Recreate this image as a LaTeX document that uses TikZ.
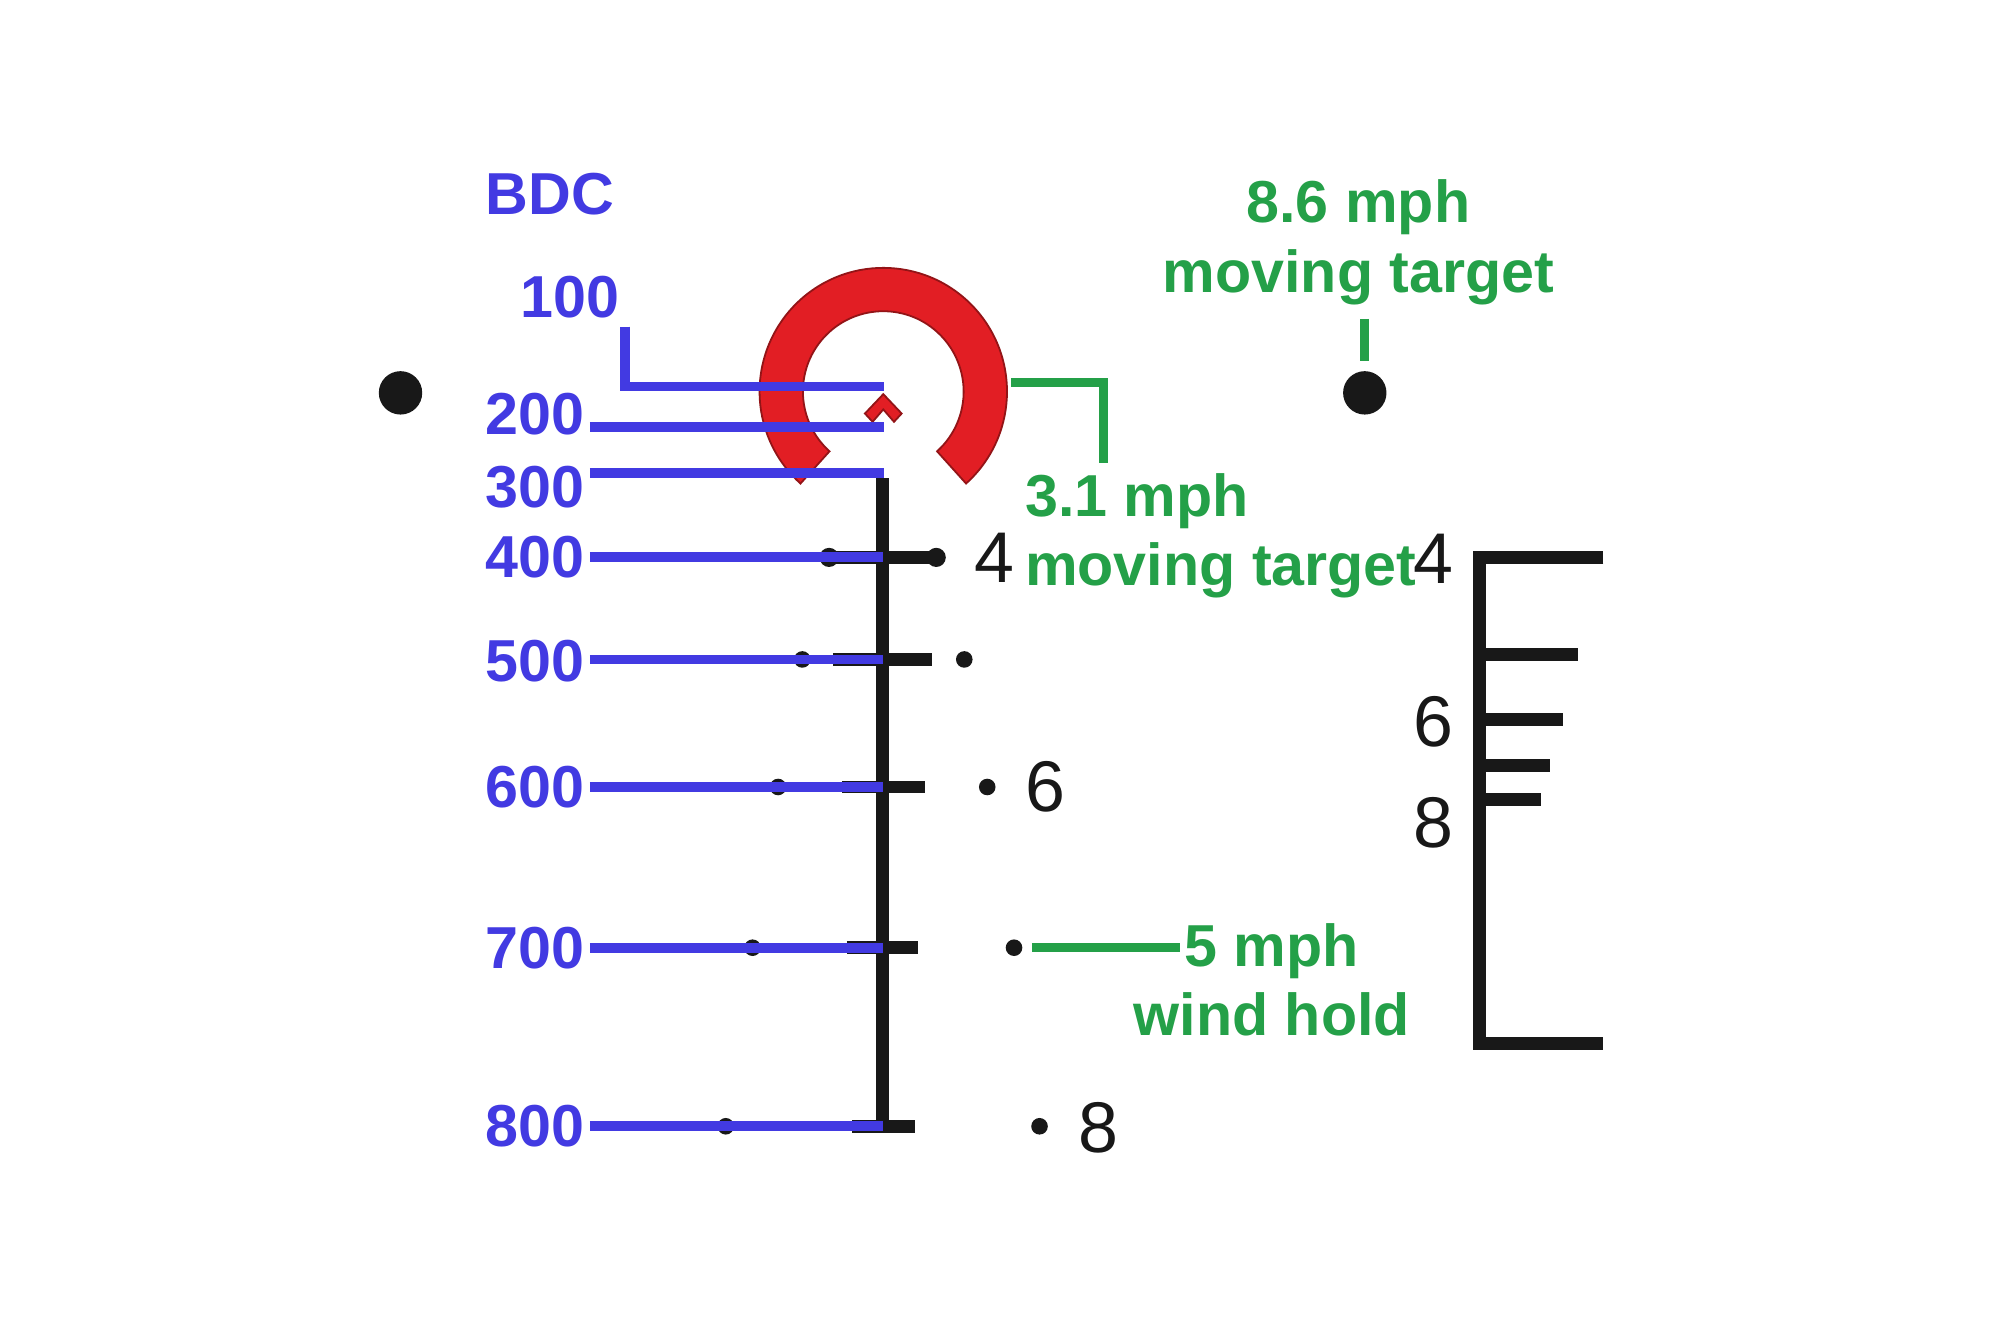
\documentclass[tikz,border=0pt]{standalone}
\usepackage{fontspec}
\setmainfont{Liberation Sans}

\definecolor{bdcblue}{RGB}{66,58,226}
\definecolor{windgreen}{RGB}{36,160,72}
\definecolor{ringred}{RGB}{226,30,36}
\definecolor{reticle}{RGB}{24,24,24}

\begin{document}
\begin{tikzpicture} [x=0.01cm, y=-0.01cm,
        bdclabel/.style={text=bdcblue, font=\bfseries\fontsize{13.2}{15}\selectfont, inner sep=0pt},
        windlabel/.style={text=windgreen, font=\bfseries\fontsize{13.2}{15.4}\selectfont, inner sep=0pt},
        holdnum/.style={text=reticle, font=\fontsize{16}{18}\selectfont, inner sep=0pt},
        holddot/.style={circle, fill=reticle, inner sep=0pt, minimum size=0.13cm},
        bigdot/.style={circle, fill=reticle, inner sep=0pt, minimum size=0.34cm},
        stadia/.style={draw=reticle, line width=2.8pt},
        bdcline/.style={draw=bdcblue, line width=2.2pt},
        windline/.style={draw=windgreen, line width=2pt},
        ring/.style={fill=ringred, draw=ringred!65!black, line width=0.4pt}]
            \path[fill=white] (0,0) rectangle (1568,1045);

            % outer dots
            \node[bigdot] (ldot) at (314,308) {};
            \node[bigdot] (rdot) at (1070,308) {};

            % main stadia
            \draw[stadia] (692,375) -- (692,888);
            \draw[stadia] (650,437) -- (734,437);
            \draw[stadia] (653,517) -- (731,517);
            \draw[stadia] (660,617) -- (725,617);
            \draw[stadia] (664,743) -- (720,743);
            \draw[stadia] (668,883) -- (717,883);
            \node[holddot, minimum size=0.15cm] (l4) at (650,437) {};
            \node[holddot, minimum size=0.15cm] (r4) at (734,437) {};
            \node[holddot] (l5) at (629,517) {};
            \node[holddot] (r5) at (756,517) {};
            \node[holddot] (l6) at (610,617) {};
            \node[holddot] (r6) at (774,617) {};
            \node[holddot] (l7) at (590,743) {};
            \node[holddot] (r7) at (795,743) {};
            \node[holddot] (l8) at (569,883) {};
            \node[holddot] (r8) at (815,883) {};
            \node[holdnum] (n4) at (780,437) {4};
            \node[holdnum] (n6) at (820,617) {6};
            \node[holdnum] (n8) at (861,884) {8};

            % side scale
            \draw[stadia] (1257,437) -- (1160,437) -- (1160,818) -- (1257,818);
            \draw[stadia] (1160,513) -- (1237,513);
            \draw[stadia] (1160,564) -- (1225,564);
            \draw[stadia] (1160,600) -- (1215,600);
            \draw[stadia] (1160,627) -- (1208,627);
            \node[holdnum] (s4) at (1124,438) {4};
            \node[holdnum] (s6) at (1124,566) {6};
            \node[holdnum] (s8) at (1124,645) {8};

            % red ring and chevron
            \coordinate (ringc) at (692.5,307);
            \path[ring] ([shift={(48:97)}]ringc) arc[start angle=48, end angle=-228, radius=97]
                -- ([shift={(-228:63)}]ringc) arc[start angle=-228, end angle=48, radius=63] -- cycle;
            \path[ring] (692.5,309) -- ++(-14.4,15.2) -- ++(6,6.5) -- ++(8.4,-9.7)
                -- ++(8.4,9.7) -- ++(6,-6.5) -- cycle;

            % BDC leaders
            \node[bdclabel] (bdc) at (431,152) {BDC};
            \node[bdclabel] (d100) at (447,233) {100};
            \node[bdclabel, anchor=east] (d200) at (459,325) {200};
            \node[bdclabel, anchor=east] (d300) at (459,382) {300};
            \node[bdclabel, anchor=east] (d400) at (459,437) {400};
            \node[bdclabel, anchor=east] (d500) at (459,518) {500};
            \node[bdclabel, anchor=east] (d600) at (459,617) {600};
            \node[bdclabel, anchor=east] (d700) at (459,743) {700};
            \node[bdclabel, anchor=east] (d800) at (459,883) {800};
            \coordinate (k100) at (490,256);
            \coordinate (z100) at (693,303);
            \coordinate (z200) at (693,335);
            \coordinate (z300) at (693,371);
            \coordinate (z400) at (692,437);
            \coordinate (z500) at (692,517);
            \coordinate (z600) at (692,617);
            \coordinate (z700) at (692,743);
            \coordinate (z800) at (692,883);
            \draw[bdcline] (k100) |- (z100);
            \draw[bdcline] ([xshift=1pt]d200.east |- z200) -- (z200);
            \draw[bdcline] ([xshift=1pt]d300.east |- z300) -- (z300);
            \draw[bdcline] ([xshift=1pt]d400.east |- z400) -- (z400);
            \draw[bdcline] ([xshift=1pt]d500.east |- z500) -- (z500);
            \draw[bdcline] ([xshift=1pt]d600.east |- z600) -- (z600);
            \draw[bdcline] ([xshift=1pt]d700.east |- z700) -- (z700);
            \draw[bdcline] ([xshift=1pt]d800.east |- z800) -- (z800);

            % moving target and wind
            \node[windlabel, align=center] (mt86) at (1065,190) {8.6 mph\\moving target};
            \node[windlabel, align=left, anchor=west] (mt31) at (803,420) {3.1 mph\\moving target};
            \node[windlabel, align=center] (wind5) at (997,768) {5 mph\\wind hold};
            \coordinate (g86a) at (1070,250);
            \coordinate (g86b) at (1070,283);
            \coordinate (g31a) at (793,300);
            \coordinate (g31b) at (865,363);
            \coordinate (g5a) at (809,743);
            \coordinate (g5b) at (925,743);
            \draw[windline] (g86a) -- (g86b);
            \draw[windline] (g31a) -| (g31b);
            \draw[windline] (g5a) -- (g5b);
        \end{tikzpicture}
\end{document}
